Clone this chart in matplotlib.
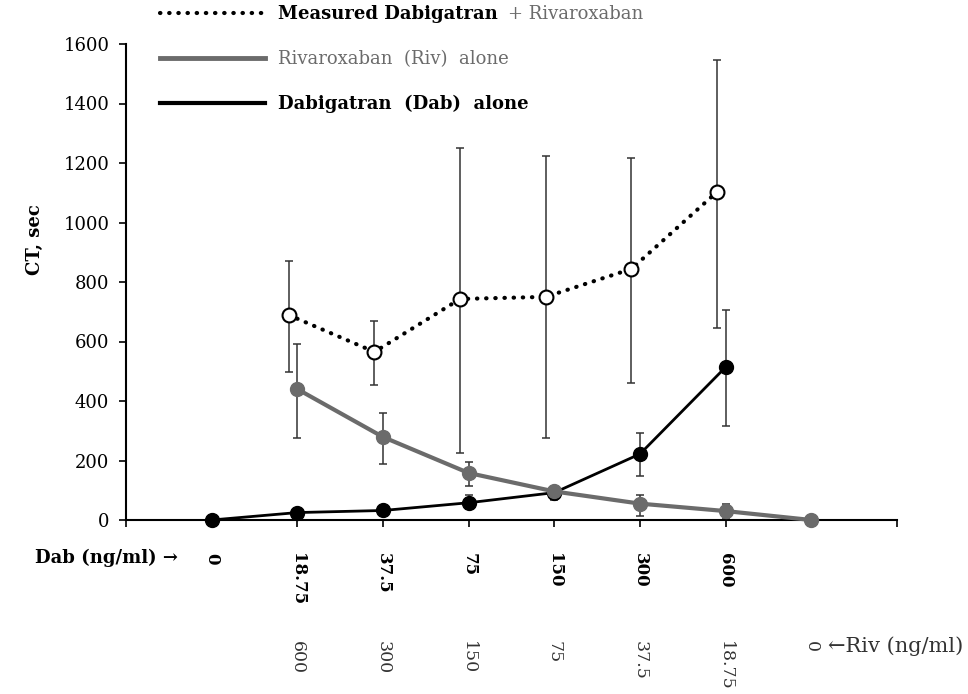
import matplotlib
matplotlib.use("Agg")
import matplotlib.pyplot as plt
from matplotlib.lines import Line2D

plt.rcParams['font.family'] = ['DejaVu Serif', 'DejaVu Sans']

# x positions of the dose pairs (axis runs 0..9)
pos = [1, 2, 3, 4, 5, 6, 7, 8]
dab_labels = ["0", "18.75", "37.5", "75", "150", "300", "600"]
riv_labels = ["600", "300", "150", "75", "37.5", "18.75", "0"]

# Dabigatran alone (x = 1..7)
dab_x = [1, 2, 3, 4, 5, 6, 7]
dab_ct = [0, 25, 32, 58, 92, 222, 514]
dab_lo = [0, 5, 8, 22, 20, 75, 198]
dab_hi = [0, 5, 8, 25, 15, 70, 192]

# Rivaroxaban alone (x = 2..8)
riv_x = [2, 3, 4, 5, 6, 7, 8]
riv_ct = [440, 279, 158, 96, 55, 30, 0]
riv_lo = [164, 91, 44, 30, 42, 25, 0]
riv_hi = [152, 81, 38, 14, 30, 25, 0]

# measured Dab + Riv (x = 2..7)
mix_x = [2, 3, 4, 5, 6, 7]
mix_ct = [689, 565, 743, 750, 844, 1103]
mix_lo = [192, 111, 518, 474, 383, 458]
mix_hi = [181, 104, 507, 473, 373, 443]

gray = '#6b6b6b'

fig = plt.figure(figsize=(9.68, 6.94), dpi=100)
ax = fig.add_axes([126 / 968, 1 - 520 / 694, 771 / 968, 476 / 694])

# Dabigatran alone
ax.errorbar(dab_x, dab_ct, yerr=[dab_lo, dab_hi], fmt='none', ecolor='#333333',
            elinewidth=1.1, capsize=3, capthick=1.1, zorder=2)
ax.plot(dab_x, dab_ct, '-o', color='black', lw=2, ms=10, clip_on=False, zorder=3)

# Rivaroxaban alone
ax.errorbar(riv_x, riv_ct, yerr=[riv_lo, riv_hi], fmt='none', ecolor='#333333',
            elinewidth=1.1, capsize=3, capthick=1.1, zorder=2)
ax.plot(riv_x, riv_ct, '-o', color=gray, lw=3, ms=10, clip_on=False, zorder=4)

# measured combination, drawn a bit left of the tick
mx = [v - 0.1 for v in mix_x]
ax.errorbar(mx, mix_ct, yerr=[mix_lo, mix_hi], fmt='none', ecolor='#333333',
            elinewidth=1.1, capsize=3, capthick=1.1, zorder=2)
ax.plot(mx, mix_ct, color='black', lw=3, linestyle=(0, (0.1, 2.1)),
        dash_capstyle='round', zorder=5)
ax.plot(mx, mix_ct, 'o', mfc='white', mec='black', mew=1.5, ms=10, zorder=6)

ax.set_xlim(0, 9)
ax.set_ylim(0, 1600)
ax.set_yticks(range(0, 1601, 200))
ax.set_xticks(range(0, 10))
ax.set_xticklabels([""] + dab_labels + ["", ""], rotation=-90, fontweight='bold',
                   fontsize=12)
ax.tick_params(axis='x', length=5, width=1.2, pad=19, direction='out')
ax.tick_params(axis='y', length=5, width=1.2, pad=7, labelsize=13)
for s in ['top', 'right']:
    ax.spines[s].set_visible(False)
for s in ['left', 'bottom']:
    ax.spines[s].set_linewidth(1.5)

ax.set_ylabel("CT, sec", fontsize=13, fontweight='bold')
ax.yaxis.set_label_coords(-0.106, 0.59)

# Riv dose row
for x, lab in zip(riv_x, riv_labels):
    ax.annotate(lab, xy=(x, 0), xycoords=ax.get_xaxis_transform(),
                xytext=(0, -87), textcoords='offset points', rotation=-90,
                ha='center', va='top', fontsize=12.5, color='#333333')

ax.annotate("Dab (ng/ml) \u2192", xy=(1, 0), xycoords=ax.get_xaxis_transform(),
            xytext=(-24, -27), textcoords='offset points', ha='right', va='center',
            fontsize=13, fontweight='bold')
ax.annotate("\u2190Riv (ng/ml)", xy=(8, 0), xycoords=ax.get_xaxis_transform(),
            xytext=(12, -91), textcoords='offset points', ha='left', va='center',
            fontsize=15, color='#333333')

# legend
handles = [
    Line2D([], [], color='black', lw=3, linestyle=(0, (0.1, 2.1)), dash_capstyle='round'),
    Line2D([], [], color=gray, lw=3.5),
    Line2D([], [], color='black', lw=3),
]
labels = ["Measured Dabigatran", "Rivaroxaban  (Riv)  alone", "Dabigatran  (Dab)  alone"]
leg = ax.legend(handles, labels, loc='upper left', bbox_to_anchor=(160 / 968, 1 - 5 / 694),
                bbox_transform=fig.transFigure, frameon=False, fontsize=13,
                handlelength=5.8, handletextpad=0.75, labelspacing=1.5,
                borderpad=0, borderaxespad=0)
texts = leg.get_texts()
texts[0].set_fontweight('bold')
texts[1].set_color(gray)
texts[2].set_fontweight('bold')

# grey tail of the first legend entry, placed after the bold part
fig.canvas.draw()
bb = texts[0].get_window_extent()
W, H = fig.canvas.get_width_height()
fig.text((bb.x1 + 10) / W, (bb.y0 + bb.y1) / 2 / H, "+ Rivaroxaban", va='center',
         ha='left', fontsize=13, color=gray)

fig.savefig("out.png", dpi=100)
